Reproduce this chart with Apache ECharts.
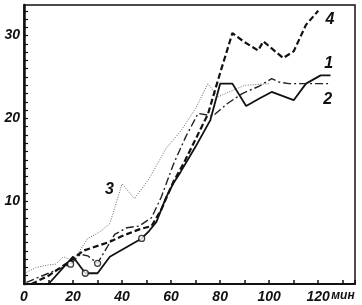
<!DOCTYPE html>
<html><head><meta charset="utf-8">
<script src="https://cdn.jsdelivr.net/npm/echarts@6/dist/echarts.min.js"></script>
<style>html,body{margin:0;padding:0;background:#fff}#c{width:362px;height:305px}</style>
</head><body><div id="c"></div>
<script>
// Curve 1 (solid)
const s1X = [10, 20, 25, 30, 35, 48, 51, 54, 58, 61, 64, 70, 76, 80, 85, 90.6, 96, 101, 110, 115, 121, 125];
const s1Y = [0, 3.3, 1.3, 1.3, 3.3, 5.5, 6.4, 7.5, 10.5, 12.2, 13.6, 16.6, 19.8, 24.2, 24.2, 21.5, 22.4, 23.2, 22.2, 24.2, 25.2, 25.2];
// Curve 2 (dash-dot)
const s2X = [1, 10, 19, 23, 26, 30, 33, 37, 42, 47, 52, 56, 61, 66, 71, 77, 83, 89, 96, 101, 104, 108, 125];
const s2Y = [0.2, 1.3, 2.4, 3.6, 3.4, 2.5, 4.0, 6.0, 6.8, 7.0, 8.0, 10.5, 14.5, 17.8, 20.6, 20.3, 21.8, 23.0, 23.9, 24.8, 24.4, 24.2, 24.2];
// Curve 3 (dotted)
const s3X = [1, 5, 10, 13, 16, 20, 24, 26, 31, 35, 40, 45, 51, 58, 64, 70, 75, 79, 90, 100];
const s3Y = [1.4, 2.0, 2.3, 2.4, 3.3, 2.8, 4.6, 5.5, 6.3, 7.3, 12.1, 10.3, 12.7, 16.4, 18.5, 21.2, 24.2, 22.6, 24.0, 24.2];
// Curve 4 (dashed)
const s4X = [3, 10, 15, 20, 24, 30, 35, 40, 47, 52, 56, 61, 65, 70, 75, 80, 85, 90, 95.5, 97.6, 105.7, 110, 115, 120];
const s4Y = [0, 1.0, 2.0, 3.0, 4.0, 4.6, 5.1, 5.8, 6.6, 7.0, 9.0, 12.4, 14.5, 17.5, 20.5, 25.5, 30.3, 29.2, 28.2, 29.3, 27.3, 28.1, 31.3, 33.0];
// Open circle experimental points
const circX = [19, 25, 30, 48];
const circY = [2.4, 1.3, 2.5, 5.5];
// Curve labels: text, x, y (data coords)
const labTxt = ['1', '2', '3', '4'];
const labX = [122.5, 122, 33, 123];
const labY = [26.6, 22.3, 11.4, 31.9];
const xLabels = {0:'0', 20:'20', 40:'40', 60:'60', 80:'80', 100:'100', 120:'120'};
const yLabels = {10:'10', 20:'20', 30:'30'};
const xUnit = 'мин';

const zip = (a, b) => a.map((v, i) => [v, b[i]]);
const FONT = {fontFamily: 'Liberation Sans', fontStyle: 'italic', fontWeight: 'bold', fontSize: 14, color: '#111'};

const chart = echarts.init(document.getElementById('c'));
chart.setOption({
  animation: false,
  grid: {left: 24, right: 7, top: 5, bottom: 21, show: true, borderColor: '#111', borderWidth: 1.5},
  xAxis: {
    type: 'value', min: 0, max: 135, interval: 10,
    axisLine: {lineStyle: {color: '#111', width: 2}},
    axisTick: {inside: true, length: 4, lineStyle: {color: '#111', width: 1.5}},
    splitLine: {show: false},
    axisLabel: Object.assign({}, FONT, {margin: 6, formatter: v => xLabels[v] || ''})
  },
  yAxis: {
    type: 'value', min: 0, max: 33.7, interval: 1,
    axisLine: {lineStyle: {color: '#111', width: 2.5}},
    axisTick: {inside: true, length: 4, lineStyle: {color: '#111', width: 1.2}},
    splitLine: {show: false},
    axisLabel: Object.assign({}, FONT, {margin: 4, formatter: v => yLabels[v] || '', showMaxLabel: false})
  },
  series: [
    {type: 'line', data: zip(s1X, s1Y), symbol: 'none', lineStyle: {color: '#111', width: 1.8, type: 'solid'}},
    {type: 'line', data: zip(s2X, s2Y), symbol: 'none', lineStyle: {color: '#222', width: 1.4, type: [8, 3, 2, 3]}},
    {type: 'line', data: zip(s3X, s3Y), symbol: 'none', lineStyle: {color: '#666', width: 1, type: [1, 1.5]}},
    {type: 'line', data: zip(s4X, s4Y), symbol: 'none', lineStyle: {color: '#111', width: 2.2, type: [6, 3]}},
    {type: 'scatter', data: zip(circX, circY), symbol: 'circle', symbolSize: 6,
     itemStyle: {color: '#fff', borderColor: '#111', borderWidth: 1.3}, z: 5}
  ]
});
const g = labTxt.map((t, i) => {
  const p = chart.convertToPixel({gridIndex: 0}, [labX[i], labY[i]]);
  return {type: 'text', x: p[0], y: p[1], style: {text: t, font: 'italic bold 16px "Liberation Sans"', fill: '#111', textAlign: 'left', textVerticalAlign: 'middle'}};
});
const u = chart.convertToPixel({gridIndex: 0}, [120, 0]);
g.push({type: 'text', x: u[0] + 13, y: u[1] + 12, style: {text: xUnit, font: 'italic bold 12px "Liberation Sans"', fill: '#111', textAlign: 'left', textVerticalAlign: 'middle'}});
chart.setOption({graphic: g});
</script></body></html>
